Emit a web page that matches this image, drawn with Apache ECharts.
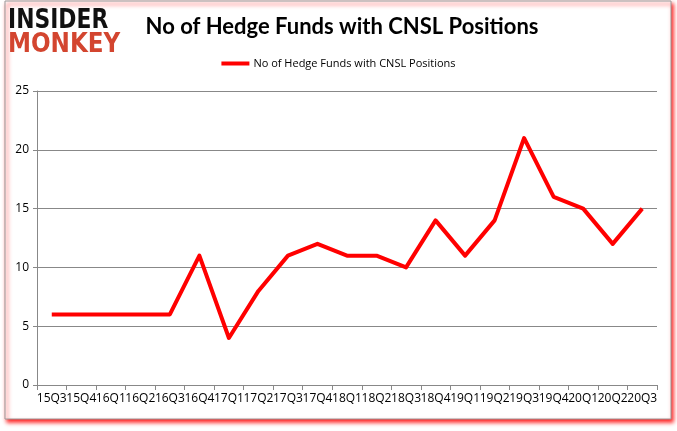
<!DOCTYPE html>
<html>
<head>
<meta charset="utf-8">
<script src="https://cdn.jsdelivr.net/npm/echarts@6/dist/echarts.min.js"></script>
<style>
html,body{margin:0;padding:0;background:#fff;}
#c{width:677px;height:431px;}
</style>
</head>
<body>
<div id="c"></div>
<script>
const categories = ["15Q3","15Q4","16Q1","16Q2","16Q3","16Q4","17Q1","17Q2","17Q3","17Q4","18Q1","18Q2","18Q3","18Q4","19Q1","19Q2","19Q3","19Q4","20Q1","20Q2","20Q3"];
const hedgeFunds = [6,6,6,6,6,11,4,8,11,12,11,11,10,14,11,14,21,16,15,12,15];
const yTicks = [0,5,10,15,20,25];
const seriesName = "No of Hedge Funds with CNSL Positions";
const titleText = "No of Hedge Funds with CNSL Positions";

const chart = echarts.init(document.getElementById('c'), null, {renderer:'canvas'});
chart.setOption({
  animation:false,
  backgroundColor:'#fff',
  title:{
    text:titleText,
    left:337, top:11, textAlign:'center',
    textStyle:{fontFamily:'Lato', fontWeight:'bold', fontSize:22, color:'#000'}
  },
  legend:{
    data:[seriesName],
    top:53, left:'center',
    itemWidth:28, itemHeight:4, itemGap:4,
    icon:'rect',
    textStyle:{fontFamily:'Open Sans', fontSize:11, color:'#000', padding:[0,0,0,-1]}
  },
  grid:{left:37, right:20, top:91, bottom:46, containLabel:false},
  xAxis:{
    type:'category', data:categories, boundaryGap:true,
    axisLine:{lineStyle:{color:'#888', width:1}},
    axisTick:{show:true, length:5, alignWithLabel:false, lineStyle:{color:'#888'}},
    axisLabel:{interval:0, fontFamily:'Open Sans', fontSize:12, color:'#000', margin:8}
  },
  yAxis:{
    type:'value', min:yTicks[0], max:yTicks[yTicks.length-1], interval:5,
    axisLine:{show:true, lineStyle:{color:'#888', width:1}},
    axisTick:{show:true, length:4, lineStyle:{color:'#888'}},
    axisLabel:{fontFamily:'Open Sans', fontSize:12, color:'#000', margin:8},
    splitLine:{lineStyle:{color:'#888', width:1}}
  },
  series:[{
    name:seriesName, type:'line', data:hedgeFunds,
    showSymbol:false, symbol:'none',
    lineStyle:{color:'#ff0000', width:4, join:'round'},
    itemStyle:{color:'#ff0000'}
  }],
  graphic:[
    {type:'rect', z:-10, silent:true,
     shape:{x:5, y:1, width:666, height:418},
     style:{fill:'#fff', stroke:'#999', lineWidth:1,
            shadowColor:'rgba(255,0,0,0.9)', shadowOffsetX:2, shadowOffsetY:3, shadowBlur:4}},
    {type:'text', x:8, y:7, scaleX:0.81, scaleY:1,
     style:{text:'INSIDER', font:'bold 27px "DejaVu Sans"', fill:'#111', textVerticalAlign:'top'}},
    {type:'text', x:8, y:31, scaleX:0.855, scaleY:1,
     style:{text:'MONKEY', font:'bold 27px "DejaVu Sans"', fill:'#d3452f', textVerticalAlign:'top'}}
  ]
});
</script>
</body>
</html>
